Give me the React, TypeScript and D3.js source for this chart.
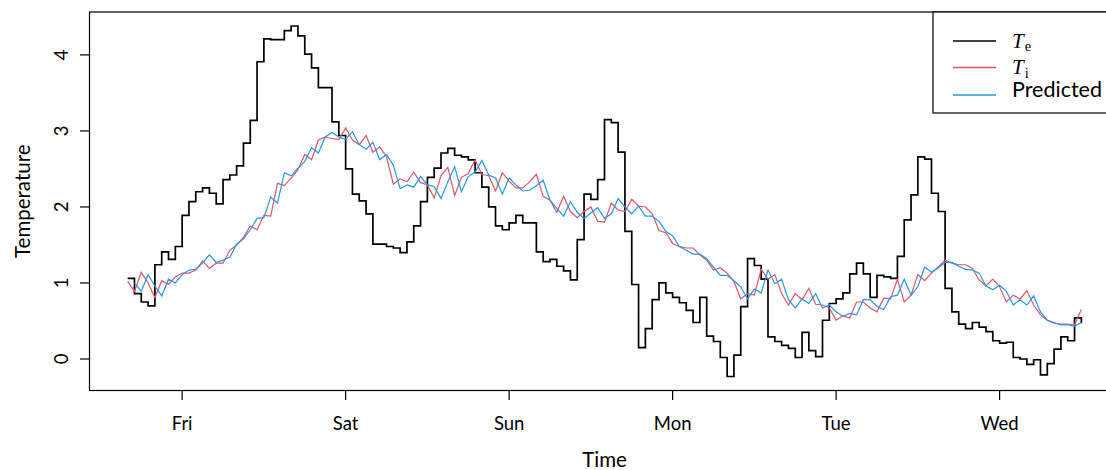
import React from 'react';
import * as d3 from 'd3';

// hourly series, first observation Thu 16:00 (hours relative to Fri 00:00)
const teStart = -8;
const te = [
  1.06, 0.86, 0.75, 0.70, 1.24, 1.41, 1.31, 1.48,
  1.89, 2.07, 2.20, 2.25, 2.18, 2.04, 2.36, 2.42, 2.54, 2.84, 3.14, 3.91,
  4.21, 4.20, 4.20, 4.32, 4.38, 4.25, 4.01, 3.83, 3.57, 3.57, 3.12, 2.94,
  2.50, 2.17, 2.08, 1.91, 1.51, 1.51, 1.48, 1.46, 1.40, 1.54, 1.75, 2.07,
  2.39, 2.51, 2.71, 2.77, 2.68, 2.66, 2.62, 2.45, 2.26, 2.00, 1.75, 1.70,
  1.79, 1.89, 1.79, 1.79, 1.41, 1.28, 1.31, 1.22, 1.16, 1.04, 1.57, 2.17,
  2.10, 2.36, 3.15, 3.11, 2.72, 1.68, 0.98, 0.15, 0.40, 0.78, 1.00, 0.87,
  0.81, 0.74, 0.64, 0.48, 0.81, 0.30, 0.23, 0.02, -0.23, 0.05, 0.69, 1.32,
  1.23, 1.05, 0.29, 0.23, 0.18, 0.14, 0.02, 0.35, 0.11, 0.03, 0.51, 0.73,
  0.79, 0.87, 1.12, 1.26, 1.12, 0.81, 1.10, 1.08, 1.06, 1.35, 1.83, 2.16,
  2.66, 2.63, 2.18, 1.94, 0.93, 0.62, 0.46, 0.40, 0.48, 0.42, 0.36, 0.24,
  0.21, 0.22, 0.02, 0.00, -0.07, -0.01, -0.21, -0.06, 0.13, 0.29, 0.24, 0.54,
  0.47,
];
const tiStart = -8;
const ti = [
  1.02, 0.89, 1.14, 1.00, 0.81, 1.03, 0.98, 1.08,
  1.13, 1.13, 1.17, 1.29, 1.19, 1.26, 1.26, 1.43, 1.50, 1.60, 1.75, 1.70,
  1.89, 1.88, 2.31, 2.28, 2.38, 2.49, 2.69, 2.62, 2.88, 2.92, 2.90, 2.89,
  3.04, 2.88, 2.82, 2.94, 2.72, 2.79, 2.66, 2.30, 2.37, 2.33, 2.46, 2.32,
  2.29, 2.12, 2.41, 2.52, 2.15, 2.39, 2.44, 2.62, 2.43, 2.41, 2.21, 2.45,
  2.34, 2.25, 2.25, 2.33, 2.43, 2.14, 2.09, 1.93, 2.14, 1.94, 1.86, 1.94,
  2.00, 1.81, 1.80, 2.05, 1.96, 1.94, 2.10, 2.01, 2.00, 1.91, 1.69, 1.66,
  1.52, 1.48, 1.46, 1.46, 1.37, 1.30, 1.17, 1.20, 1.13, 1.02, 0.79, 0.86,
  0.84, 1.18, 1.05, 1.11, 0.86, 0.71, 0.86, 0.78, 0.93, 0.72, 0.71, 0.67,
  0.51, 0.57, 0.54, 0.75, 0.75, 0.67, 0.62, 0.80, 0.79, 1.05, 0.75, 0.84,
  1.11, 1.03, 1.13, 1.21, 1.30, 1.26, 1.24, 1.24, 1.19, 1.04, 0.96, 1.05,
  0.95, 0.75, 0.84, 0.79, 0.90, 0.71, 0.58, 0.51, 0.47, 0.46, 0.46, 0.45,
  0.65,
];
const predStart = -7;
const predicted = [
  1.00, 0.89, 1.11, 0.96, 0.83, 1.05, 1.00,
  1.11, 1.17, 1.18, 1.26, 1.37, 1.27, 1.30, 1.34, 1.51, 1.58, 1.70, 1.85,
  1.86, 2.13, 2.05, 2.45, 2.41, 2.51, 2.60, 2.78, 2.71, 2.92, 2.98, 2.92,
  2.89, 2.99, 2.82, 2.76, 2.85, 2.62, 2.69, 2.55, 2.24, 2.29, 2.26, 2.40,
  2.29, 2.27, 2.11, 2.33, 2.53, 2.20, 2.40, 2.46, 2.61, 2.42, 2.38, 2.17,
  2.38, 2.29, 2.21, 2.22, 2.28, 2.35, 2.09, 1.98, 1.88, 2.07, 1.93, 1.85,
  1.92, 1.99, 1.85, 1.91, 2.11, 2.00, 1.91, 2.01, 1.88, 1.88, 1.81, 1.68,
  1.62, 1.48, 1.43, 1.38, 1.38, 1.32, 1.21, 1.10, 1.10, 1.03, 0.95, 0.79,
  0.92, 0.87, 1.17, 0.99, 1.05, 0.78, 0.67, 0.79, 0.73, 0.86, 0.67, 0.71,
  0.62, 0.56, 0.60, 0.58, 0.78, 0.78, 0.69, 0.65, 0.82, 0.84, 1.05, 0.84,
  0.95, 1.21, 1.14, 1.20, 1.27, 1.27, 1.22, 1.18, 1.17, 1.13, 0.96, 0.91,
  0.97, 0.89, 0.71, 0.78, 0.71, 0.83, 0.62, 0.51, 0.48, 0.45, 0.45, 0.43,
  0.48,
];

const dayLabels = ['Fri', 'Sat', 'Sun', 'Mon', 'Tue', 'Wed'];
const yTicks = [0, 1, 2, 3, 4];

const fri = new Date(2021, 0, 8, 0, 0);
const at = (h: number) => new Date(fri.getTime() + h * 3600e3);

const toPoints = (vals: number[], start: number) =>
  vals.map((v, i) => ({ t: at(start + i), v }));

const sans = 'Lato, "Open Sans", sans-serif';
const serif = '"Liberation Serif", "DejaVu Serif", serif';

export default function App() {
  const width = 1106;
  const height = 470;
  const plot = { left: 89.5, right: 1119.5, top: 12, bottom: 390.5 };

  const teData = toPoints(te, teStart);
  const tiData = toPoints(ti, tiStart);
  const predData = toPoints(predicted, predStart);

  // R style axis limits: data range widened by 4%
  const hExt = [teStart, teStart + te.length - 1];
  const hPad = (hExt[1] - hExt[0]) * 0.04;
  const x = d3.scaleTime()
    .domain([at(hExt[0] - hPad), at(hExt[1] + hPad)])
    .range([plot.left, plot.right]);

  const allVals = te.concat(ti, predicted);
  const [vMin, vMax] = d3.extent(allVals) as [number, number];
  const vPad = (vMax - vMin) * 0.04;
  const y = d3.scaleLinear()
    .domain([vMin - vPad, vMax + vPad])
    .range([plot.bottom, plot.top]);

  const stepLine = d3.line<{ t: Date; v: number }>()
    .x(d => x(d.t))
    .y(d => y(d.v))
    .curve(d3.curveStepAfter);
  const line = d3.line<{ t: Date; v: number }>()
    .x(d => x(d.t))
    .y(d => y(d.v));

  const legend = [
    { key: 'e', color: '#000000', width: 1.7 },
    { key: 'i', color: '#DF536B', width: 1.4 },
    { key: 'Predicted', color: '#2297E6', width: 1.4 },
  ];
  const legendX = 933;
  const legendRows = [41, 67.5, 95];

  return (
    <svg width={width} height={height}
      style={{ position: 'absolute', left: 0, top: 0, display: 'block', background: '#fff' }}>
      <path d={stepLine(teData) ?? ''} fill="none" stroke="#000" strokeWidth={1.7} />
      <path d={line(tiData) ?? ''} fill="none" stroke="#DF536B" strokeWidth={1.2} />
      <path d={line(predData) ?? ''} fill="none" stroke="#2297E6" strokeWidth={1.2} />

      <rect x={plot.left} y={plot.top} width={plot.right - plot.left} height={plot.bottom - plot.top}
        fill="none" stroke="#000" strokeWidth={1.2} />

      {/* y axis */}
      {yTicks.map(t => (
        <g key={t}>
          <line x1={plot.left} x2={plot.left - 9.5} y1={y(t)} y2={y(t)} stroke="#000" strokeWidth={1.2} />
          <text transform={`translate(68,${y(t)}) rotate(-90)`} textAnchor="middle"
            fontFamily={sans} fontSize={18.5}>{t}</text>
        </g>
      ))}
      <text transform={`translate(29.5,${(plot.top + plot.bottom) / 2}) rotate(-90)`} textAnchor="middle"
        fontFamily={sans} fontSize={20.5}>Temperature</text>

      {/* x axis */}
      {dayLabels.map((lab, i) => {
        const px = x(at(i * 24));
        return (
          <g key={lab}>
            <line x1={px} x2={px} y1={plot.bottom} y2={plot.bottom + 9.5} stroke="#000" strokeWidth={1.2} />
            <text x={px} y={430} textAnchor="middle" fontFamily={sans} fontSize={18.5}>{lab}</text>
          </g>
        );
      })}
      <text x={(plot.left + plot.right) / 2} y={467} textAnchor="middle" fontFamily={sans} fontSize={20.5}>Time</text>

      {/* legend */}
      <rect x={legendX} y={plot.top} width={plot.right - legendX} height={101} fill="#fff" stroke="#000" strokeWidth={1.2} />
      {legend.map((l, i) => (
        <g key={l.key}>
          <line x1={953} x2={996} y1={legendRows[i]} y2={legendRows[i]} stroke={l.color} strokeWidth={l.width} />
          {l.key === 'Predicted' ? (
            <text x={1012} y={legendRows[i] + 1.7} fontFamily={sans} fontSize={21.5}>Predicted</text>
          ) : (
            <text x={1012} y={legendRows[i] + 6.5} fontFamily={serif} fontSize={21}>
              <tspan fontStyle="italic">T</tspan>
              <tspan dx={1} dy={3.5} fontSize={14.5}>{l.key}</tspan>
            </text>
          )}
        </g>
      ))}
    </svg>
  );
}
